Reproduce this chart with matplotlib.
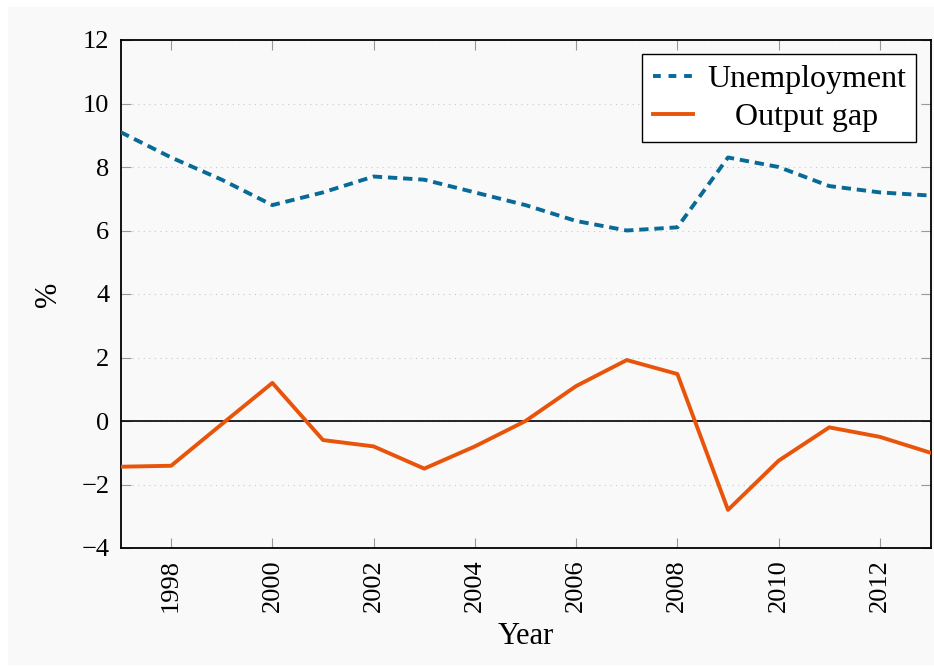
import matplotlib.pyplot as plt
from matplotlib.patches import Rectangle

plt.rcParams['font.family'] = ['Liberation Serif', 'DejaVu Serif']
plt.rcParams['axes.unicode_minus'] = True

years = list(range(1997, 2014))
unemployment = [9.1, 8.3, 7.6, 6.8, 7.2, 7.7, 7.6, 7.2, 6.8, 6.3, 6.0, 6.1, 8.3, 8.0, 7.4, 7.2, 7.1]
output_gap = [-1.44, -1.41, -0.1, 1.2, -0.6, -0.8, -1.5, -0.8, 0.0, 1.1, 1.92, 1.48, -2.8, -1.25, -0.2, -0.5, -1.0]

x_ticks = list(range(1998, 2013, 2))
y_ticks = list(range(-4, 13, 2))

bg = '#f9f9f9'
blue = '#086a96'
orange = '#e8540a'

fig = plt.figure(figsize=(9.34, 6.66), dpi=100, facecolor='white')
fig.patches.append(Rectangle((8 / 934, 1 / 666), 926 / 934, 658 / 666,
                             transform=fig.transFigure, facecolor=bg,
                             edgecolor='none', zorder=-10))
ax = fig.add_axes([120.5 / 934, 1 - 548 / 666, 810 / 934, 508 / 666])
ax.set_facecolor(bg)

ax.plot(years, unemployment, color=blue, lw=2.8, dashes=(2.4, 1.5),
        label='Unemployment', zorder=3)
ax.plot(years, output_gap, color=orange, lw=2.8, label='Output gap', zorder=3)
ax.axhline(0, color='black', lw=1.2, zorder=2)

ax.set_xlim(1997, 2013)
ax.set_ylim(-4, 12)
ax.set_xticks(x_ticks)
ax.set_yticks(y_ticks)
ax.grid(axis='y', color='#c8c8c8', linestyle=(0, (1, 4)), lw=0.8)
ax.tick_params(direction='in', length=7.5, width=0.8, color='#999999',
               top=True, right=True, labelsize=19, pad=8)
ax.tick_params(axis='x', labelrotation=90)
for s in ax.spines.values():
    s.set_linewidth(1.3)
    s.set_color('black')

ax.set_xlabel('Year', fontsize=22, labelpad=7)
ax.set_ylabel('%', fontsize=22, labelpad=13)

leg = ax.legend(loc='upper right', fontsize=23, fancybox=False,
                framealpha=1, edgecolor='black', handlelength=1.25,
                borderaxespad=0.45, borderpad=0.32, labelspacing=0.28,
                handletextpad=0.45)
leg.get_frame().set_linewidth(1.0)
leg.get_lines()[0].set_dashes((2.0, 2.0))

# centre the shorter label under the longer one
fig.canvas.draw()
r = fig.canvas.get_renderer()
txts = leg.get_texts()
w = [t.get_window_extent(r).width for t in txts]
txts[1].set_x((w[0] - w[1]) / 2)

fig.savefig('out.png', dpi=100, facecolor=fig.get_facecolor())
